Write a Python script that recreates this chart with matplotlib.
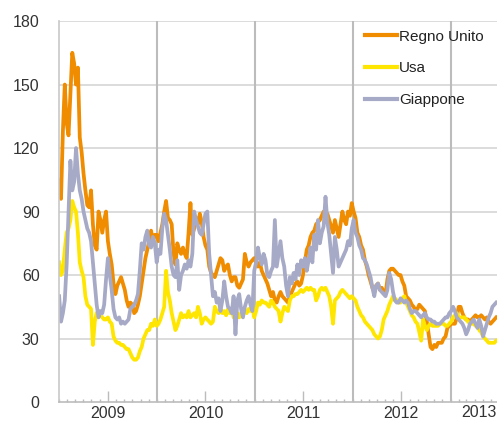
import pandas as pd
import matplotlib
matplotlib.use('Agg')
import matplotlib.pyplot as plt
import matplotlib.dates as mdates
import matplotlib.transforms as mtransforms

# weekly observations from the first week of 2009
dates = pd.date_range('2009-01-01', periods=234, freq='7D')

regno_unito = [
    # 2009
    105, 96, 128, 150, 132, 126, 145, 165, 160, 150, 158, 125, 118,
    108, 100, 93, 92, 100, 84, 74, 72, 90, 86, 80, 86, 90,
    76, 70, 65, 56, 51, 55, 57, 59, 56, 53, 48, 45, 47,
    46, 42, 43, 46, 50, 56, 62, 68, 72, 76, 81, 76, 79,
    # 2010
    79, 76, 80, 84, 90, 95, 87, 86, 84, 70, 65, 75, 72,
    70, 73, 70, 68, 80, 94, 79, 82, 87, 84, 89, 85, 78,
    74, 72, 64, 61, 60, 59, 62, 65, 68, 67, 62, 64, 65,
    60, 57, 59, 59, 55, 54, 56, 58, 70, 66, 64, 66, 67,
    # 2011
    68, 66, 64, 66, 62, 60, 58, 56, 53, 50, 52, 48, 47,
    50, 52, 50, 49, 48, 47, 50, 52, 54, 56, 57, 55, 56,
    60, 66, 72, 74, 78, 80, 81, 84, 85, 86, 88, 90, 88,
    89, 86, 83, 80, 86, 82, 78, 84, 90, 86, 84, 90, 88,
    # 2012 - 2013
    94, 90, 87, 80, 78, 74, 72, 67, 64, 60, 57, 54, 52,
    55, 56, 53, 54, 52, 51, 58, 62, 63, 63, 62, 61, 60,
    60, 57, 55, 50, 49, 48, 46, 45, 43, 44, 46, 45, 44,
    43, 38, 32, 26, 25, 27, 26, 28, 28, 28, 30, 31, 35,
    36, 37, 37, 37, 40, 45, 45, 42, 40, 39, 39, 38, 39,
    40, 41, 40, 40, 41, 40, 39, 40, 38, 37, 38, 39, 40,
]

usa = [
    # 2009
    66, 60, 62, 72, 80, 82, 86, 95, 92, 90, 80, 66, 62,
    59, 50, 46, 45, 44, 27, 38, 42, 43, 41, 40, 39, 39,
    40, 38, 37, 31, 29, 28, 28, 27, 27, 26, 25, 25, 23,
    21, 20, 20, 21, 24, 26, 30, 32, 34, 34, 37, 36, 39,
    # 2010
    36, 37, 39, 42, 45, 62, 52, 48, 42, 38, 34, 36, 39,
    42, 40, 41, 40, 43, 40, 41, 42, 40, 45, 42, 37, 39,
    40, 39, 38, 37, 38, 45, 43, 42, 44, 42, 43, 41, 44,
    42, 44, 40, 41, 42, 40, 42, 44, 43, 42, 44, 43, 45,
    # 2011
    40, 43, 47, 46, 48, 47, 47, 46, 45, 48, 47, 45, 44,
    43, 38, 42, 45, 44, 43, 48, 50, 50, 51, 51, 52, 53,
    52, 53, 54, 53, 54, 53, 53, 48, 50, 53, 54, 53, 54,
    52, 50, 45, 37, 48, 49, 50, 52, 53, 52, 51, 50, 49,
    # 2012 - 2013
    50, 49, 48, 45, 43, 41, 40, 38, 37, 36, 35, 34, 32,
    31, 30, 31, 34, 39, 41, 43, 46, 48, 50, 49, 48, 47,
    47, 49, 50, 47, 45, 43, 41, 40, 38, 37, 33, 29, 39,
    36, 34, 36, 37, 36, 36, 36, 36, 37, 37, 37, 36, 36,
    37, 38, 40, 41, 42, 40, 40, 40, 40, 39, 38, 37, 37,
    37, 36, 36, 34, 33, 31, 30, 29, 28, 28, 28, 28, 29,
]

giappone = [
    # 2009
    50, 38, 42, 48, 65, 90, 114, 100, 104, 120, 108, 100, 96,
    90, 86, 82, 80, 76, 66, 56, 46, 40, 43, 42, 46, 58,
    68, 60, 53, 44, 40, 39, 40, 37, 38, 37, 38, 39, 44,
    45, 46, 48, 51, 62, 75, 72, 78, 81, 74, 73, 78, 75,
    # 2010
    66, 72, 70, 82, 89, 86, 79, 72, 64, 60, 59, 67, 53,
    60, 62, 65, 63, 67, 64, 70, 90, 86, 83, 80, 79, 84,
    89, 90, 70, 60, 50, 52, 47, 49, 43, 48, 57, 50, 45,
    44, 42, 50, 32, 48, 51, 44, 40, 45, 48, 50, 46, 43,
    # 2011
    62, 66, 73, 68, 65, 70, 67, 60, 59, 62, 64, 86, 64,
    70, 76, 68, 64, 55, 50, 59, 56, 61, 58, 65, 60, 67,
    64, 68, 62, 67, 73, 66, 79, 72, 86, 75, 80, 83, 97,
    85, 79, 70, 61, 78, 72, 64, 66, 68, 70, 72, 76, 74,
    # 2012 - 2013
    82, 86, 80, 78, 74, 72, 68, 67, 65, 62, 59, 54, 50,
    55, 56, 53, 52, 51, 50, 53, 61, 58, 52, 48, 47, 47,
    49, 48, 47, 48, 47, 44, 42, 43, 43, 42, 41, 40, 41,
    42, 40, 39, 39, 38, 38, 37, 37, 37, 38, 39, 40, 40,
    42, 43, 45, 43, 40, 39, 38, 37, 35, 32, 34, 37, 38,
    39, 37, 35, 39, 36, 31, 34, 37, 40, 42, 45, 46, 47,
]

series_names = ['Regno Unito', 'Usa', 'Giappone']
series_colors = ['#f08c00', '#ffe600', '#a7aac6']
years = [2009, 2010, 2011, 2012]
y_ticks = [0, 30, 60, 90, 120, 150, 180]

FONT = ['Liberation Sans', 'DejaVu Sans']
TEXT_COLOR = '#333333'


def draw_chart():
    fig = plt.figure(figsize=(4.97, 4.21), dpi=100)
    ax = fig.add_axes([0.119, 0.045, 0.881, 0.905])

    for values, name, color in zip([regno_unito, usa, giappone], series_names, series_colors):
        ax.plot(dates, values, color=color, lw=2.7, label=name)

    ax.set_ylim(0, 180)
    ax.set_xlim(pd.Timestamp('2009-01-01'), pd.Timestamp('2013-06-23'))
    ax.set_yticks(y_ticks)
    ax.tick_params(axis='y', length=0, pad=14, labelsize=11.5, labelcolor=TEXT_COLOR)
    for lab in ax.get_yticklabels():
        lab.set_family(FONT)

    # horizontal grid
    for v in y_ticks[1:]:
        ax.axhline(v, color='#d2d2d2', lw=1.1, zorder=0)
    # year boundaries
    for y in [2010, 2011, 2012, 2013]:
        ax.axvline(pd.Timestamp(f'{y}-01-01'), color='#bcbcbc', lw=1.5, zorder=0)

    # year labels sit mid-year, monthly minor ticks
    ax.set_xticks([pd.Timestamp(f'{y}-07-01') for y in years])
    ax.set_xticklabels([str(y) for y in years])
    ax.xaxis.set_minor_locator(mdates.MonthLocator())
    ax.tick_params(axis='x', which='major', direction='in', length=8, width=1,
                   color='#bcbcbc', pad=3, labelsize=11.5, labelcolor=TEXT_COLOR)
    ax.tick_params(axis='x', which='minor', direction='in', length=2.5, width=1,
                   color='#bcbcbc')
    for lab in ax.get_xticklabels():
        lab.set_family(FONT)
    # the last year is only partly shown, label it within the visible span
    trans = mtransforms.blended_transform_factory(ax.transData, ax.transAxes)
    ax.text(pd.Timestamp('2013-04-15'), -0.009, '2013', transform=trans, ha='center', va='top',
            fontsize=11.5, color=TEXT_COLOR, family=FONT, clip_on=False)

    for side in ['top', 'right']:
        ax.spines[side].set_visible(False)
    ax.spines['left'].set_color('#c8c8c8')
    ax.spines['left'].set_linewidth(1.2)
    ax.spines['bottom'].set_color('#bcbcbc')
    ax.spines['bottom'].set_linewidth(1.2)

    leg = ax.legend(loc='upper left', bbox_to_anchor=(0.699, 0.977), frameon=False,
                    handlelength=2.1, handletextpad=0.13, labelspacing=1.15,
                    borderpad=0, borderaxespad=0,
                    prop={'family': FONT, 'size': 11})
    for text in leg.get_texts():
        text.set_color('#222222')
    for line in leg.get_lines():
        line.set_linewidth(3)

    fig.savefig('out.png', dpi=100)


if __name__ == '__main__':
    draw_chart()
